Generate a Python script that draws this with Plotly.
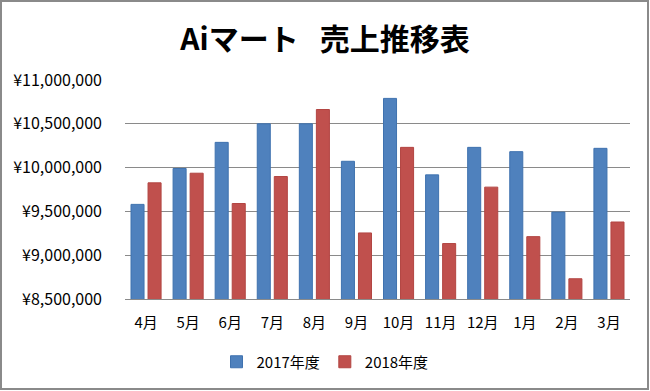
import plotly.graph_objects as go

months = ["4月", "5月", "6月", "7月", "8月", "9月", "10月", "11月", "12月", "1月", "2月", "3月"]
sales_2017 = [9580000, 9990000, 10288000, 10500000, 10500000, 10072000, 10790000, 9917000, 10231000, 10182000, 9492000, 10220000]
sales_2018 = [9826000, 9936000, 9590000, 9898000, 10663000, 9254000, 10231000, 9133000, 9777000, 9212000, 8731000, 9379000]
series_names = ["2017年度", "2018年度"]
y_ticks = [8500000, 9000000, 9500000, 10000000, 10500000, 11000000]
y_tick_labels = ["¥8,500,000", "¥9,000,000", "¥9,500,000", "¥10,000,000", "¥10,500,000", "¥11,000,000"]

FONT = "Noto Sans CJK JP"
W, H = 650, 391
ML, MR, MT, MB = 125, 20, 80, 92

fig = go.Figure()
fig.add_trace(go.Bar(x=months, y=sales_2017, name=series_names[0],
                     marker=dict(color="#4F81BD", line=dict(color="#3F72AF", width=1))))
fig.add_trace(go.Bar(x=months, y=sales_2018, name=series_names[1],
                     marker=dict(color="#C0504D", line=dict(color="#B24542", width=1))))

pw = W - ML - MR
ph = H - MT - MB
fig.add_shape(type="rect", xref="paper", yref="paper",
              x0=(1 - ML) / pw, x1=1 + (MR - 2) / pw,
              y0=-(MB - 2) / ph, y1=1 + (MT - 1) / ph,
              line=dict(color="#8a8a8a", width=2), fillcolor="rgba(0,0,0,0)", layer="above")

fig.update_layout(
    width=W, height=H,
    margin=dict(l=ML, r=MR, t=MT, b=MB),
    paper_bgcolor="white", plot_bgcolor="white",
    title=dict(text="<b>Aiマート\u2002\u2009売上推移表</b>", x=0.5, xref="container", xanchor="center",
               y=1 - 39 / H, yanchor="middle",
               font=dict(family=FONT, size=30, color="black")),
    barmode="group", bargap=0.19, bargroupgap=0.235,
    font=dict(family=FONT, color="black"),
    showlegend=True,
    legend=dict(orientation="h", x=0.5, xanchor="center", xref="container",
                y=(H - 362) / H, yref="container", yanchor="middle",
                font=dict(family=FONT, size=15, color="black"),
                itemwidth=30, traceorder="normal"),
    xaxis=dict(showgrid=False, showline=True, linecolor="#8a8a8a", linewidth=1,
               ticks="", tickfont=dict(family=FONT, size=15, color="black"),
               ticklabelstandoff=10),
    yaxis=dict(range=[8500000, 11000000], tickmode="array", tickvals=y_ticks, ticktext=y_tick_labels,
               showgrid=True, gridcolor="#8a8a8a", gridwidth=1, zeroline=False,
               showline=False, ticks="", tickfont=dict(family=FONT, size=16, color="black"),
               ticklabelstandoff=22),
)

fig.write_html("out.html", config={"displayModeBar": False},
               post_script="document.body.style.margin='0';")
